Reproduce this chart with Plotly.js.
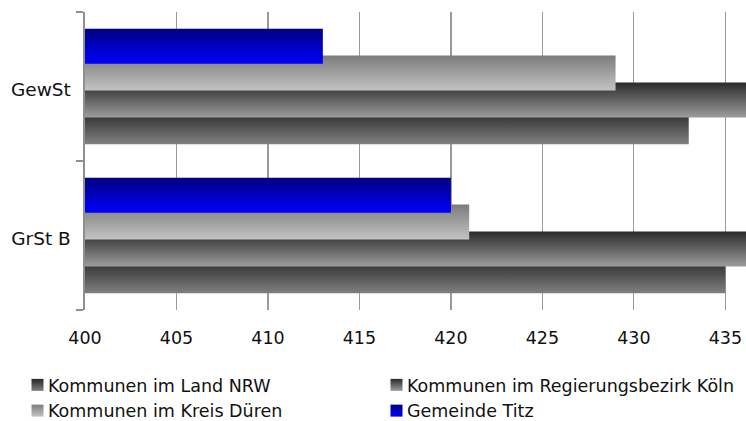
<!DOCTYPE html>
<html>
<head>
<meta charset="utf-8">
<script src="https://cdn.plot.ly/plotly-3.0.1.min.js"></script>
<style>
  html, body { margin: 0; padding: 0; background: #ffffff; }
  #chart { width: 746px; height: 421px; }
</style>
</head>
<body>
<div id="chart"></div>
<script>
// ---- data ----
const categories = ['GrSt B', 'GewSt'];
const seriesNames = [
  'Kommunen im Land NRW',
  'Kommunen im Regierungsbezirk Köln',
  'Kommunen im Kreis Düren',
  'Gemeinde Titz'
];
const landNRW = [435, 433];
const regbezKoeln = [438, 438];   // bars run past the visible axis end
const kreisDueren = [421, 429];
const gemeindeTitz = [420, 413];
const xTickVals = [400, 405, 410, 415, 420, 425, 430, 435];

// ---- styles ----
const seriesValues = [landNRW, regbezKoeln, kreisDueren, gemeindeTitz];
const gradients = [
  ['#262626', '#808080'],
  ['#2a2a2a', '#9c9c9c'],
  ['#7c7c7c', '#c4c4c4'],
  ['#000080', '#0000ff']
];
const flatColors = ['#555555', '#666666', '#a0a0a0', '#0000c0'];
const legendOf = ['legend', 'legend2', 'legend', 'legend2'];
const barWidth = 0.235;
const pitch = 0.18;
const FONT = 'DejaVu Sans, Verdana, sans-serif';

const traces = seriesValues.map((vals, i) => ({
  type: 'bar',
  orientation: 'h',
  name: seriesNames[i],
  legend: legendOf[i],
  y: categories,
  x: vals,
  width: barWidth,
  offset: (i - 1.5) * pitch - barWidth / 2,
  marker: { color: flatColors[i], line: { width: 0 } },
  hoverinfo: 'x+name'
}));

const legendBase = {
  orientation: 'v',
  traceorder: 'normal',
  xref: 'container',
  yref: 'container',
  xanchor: 'left',
  y: 1 - 367 / 421,
  yanchor: 'top',
  font: { family: FONT, size: 17.5, color: '#111111' },
  bgcolor: 'rgba(0,0,0,0)',
  borderwidth: 0,
  tracegroupgap: 0
};

const layout = {
  width: 746,
  height: 421,
  margin: { l: 85, r: 0, t: 12, b: 111, pad: 0, autoexpand: false },
  paper_bgcolor: '#ffffff',
  plot_bgcolor: '#ffffff',
  barmode: 'overlay',
  font: { family: FONT, size: 17.5, color: '#111111' },
  xaxis: {
    range: [400, 436.13],
    tickvals: xTickVals,
    ticktext: xTickVals.map(String),
    showgrid: true,
    gridcolor: '#9a9a9a',
    gridwidth: 1.3,
    zeroline: false,
    showline: false,
    ticks: '',
    ticklabelstandoff: 15,
    automargin: false,
    tickfont: { family: FONT, size: 17.5, color: '#111111' },
    fixedrange: true
  },
  yaxis: {
    type: 'category',
    categoryorder: 'array',
    categoryarray: categories,
    range: [-0.5, 1.5],
    showgrid: false,
    zeroline: false,
    showline: true,
    linecolor: '#8f8f8f',
    linewidth: 2.5,
    ticks: 'outside',
    tickson: 'boundaries',
    ticklen: 7,
    tickwidth: 2,
    tickcolor: '#8f8f8f',
    ticklabelstandoff: 8,
    ticklabelshift: 3,
    automargin: false,
    tickfont: { family: FONT, size: 18.5, color: '#111111' },
    fixedrange: true
  },
  showlegend: true,
  legend: Object.assign({}, legendBase, { x: 8 / 746 }),
  legend2: Object.assign({}, legendBase, { x: 367 / 746 })
};

function applyGradients(gd) {
  const svg = gd.querySelector('svg.main-svg');
  const ns = 'http://www.w3.org/2000/svg';
  let defs = document.createElementNS(ns, 'defs');
  svg.insertBefore(defs, svg.firstChild);
  gradients.forEach((g, i) => {
    const lg = document.createElementNS(ns, 'linearGradient');
    lg.setAttribute('id', 'barGrad' + i);
    lg.setAttribute('x1', '0'); lg.setAttribute('y1', '0');
    lg.setAttribute('x2', '0'); lg.setAttribute('y2', '1');
    [[0, g[0]], [1, g[1]]].forEach(([o, c]) => {
      const s = document.createElementNS(ns, 'stop');
      s.setAttribute('offset', String(o));
      s.setAttribute('stop-color', c);
      lg.appendChild(s);
    });
    defs.appendChild(lg);
  });
  const traceIndex = (el, fallback) => {
    try {
      const d = el.__data__;
      if (d && d[0] && d[0].trace) return d[0].trace.index;
      if (d && d[0] && d[0][0] && d[0][0].trace) return d[0][0].trace.index;
    } catch (e) {}
    return fallback;
  };
  gd.querySelectorAll('.barlayer .trace').forEach((t, k) => {
    const idx = traceIndex(t, k);
    t.querySelectorAll('path').forEach(p => { p.style.fill = 'url(#barGrad' + idx + ')'; });
  });
  gd.querySelectorAll('.legend .traces, [class^="legend"] .traces').forEach((t, k) => {
    const idx = traceIndex(t, k);
    const lp = t.querySelector('.legendpoints');
    if (lp) lp.setAttribute('transform', 'translate(9.5,0)');
    t.querySelectorAll('.legendpoints path').forEach(p => { p.style.fill = 'url(#barGrad' + idx + ')'; });
  });
}

Plotly.newPlot('chart', traces, layout, { displayModeBar: false, staticPlot: true })
  .then(gd => applyGradients(gd));
</script>
</body>
</html>
